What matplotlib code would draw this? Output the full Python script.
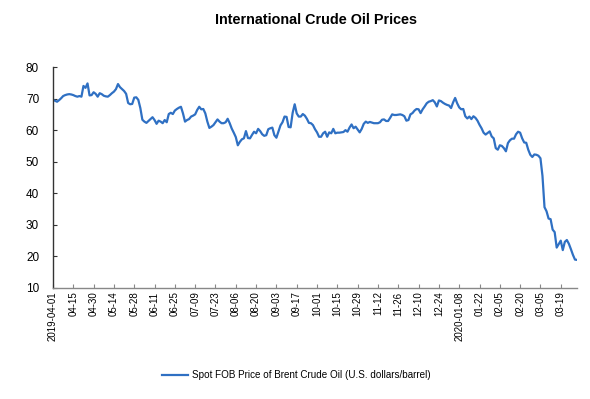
import matplotlib
matplotlib.use("Agg")
import matplotlib.pyplot as plt
from matplotlib import font_manager

# Brent spot FOB, daily, 2019-04-01 .. 2020-03-31
brent = [
    69.6, 69.3, 69.0, 69.5, 70.1, 70.8, 71.1, 71.3, 71.4, 71.3,
    71.1, 70.8, 70.6, 70.8, 70.6, 74.0, 73.4, 74.8, 71.0, 71.1,
    72.0, 71.5, 70.6, 71.7, 71.4, 70.9, 70.7, 70.6, 71.1, 71.7,
    72.2, 73.0, 74.6, 73.6, 73.0, 72.4, 71.5, 68.6, 68.2, 68.3,
    70.3, 70.4, 69.6, 67.0, 63.3, 62.7, 62.3, 62.9, 63.5, 64.1,
    63.2, 62.0, 63.0, 62.7, 62.2, 63.2, 62.5, 65.1, 65.5, 65.1,
    66.2, 66.7, 67.1, 67.4, 65.3, 62.7, 63.2, 63.5, 64.3, 64.6,
    65.0, 66.4, 67.4, 66.6, 66.7, 65.3, 62.7, 60.7, 61.1, 61.6,
    62.5, 63.4, 62.7, 62.2, 62.2, 62.5, 63.6, 62.2, 60.5, 59.2,
    57.8, 55.2, 56.3, 57.1, 57.4, 59.7, 57.5, 57.4, 58.5, 59.5,
    59.0, 60.4, 59.7, 58.7, 58.2, 58.4, 60.3, 60.6, 60.8, 58.4,
    57.6, 59.5, 61.5, 62.5, 64.3, 64.2, 61.0, 60.9, 65.5, 68.2,
    65.3, 64.3, 64.3, 65.1, 64.6, 63.6, 62.3, 62.2, 61.6, 60.3,
    59.3, 57.9, 57.9, 59.0, 59.5, 57.9, 59.3, 59.0, 60.4, 59.0,
    59.2, 59.2, 59.3, 59.4, 60.0, 59.5, 60.8, 61.8, 60.6, 61.1,
    60.2, 59.3, 60.4, 62.0, 62.7, 62.3, 62.6, 62.4, 62.2, 62.2,
    62.2, 62.5, 63.3, 63.4, 62.9, 62.9, 63.9, 65.0, 64.8, 64.8,
    64.9, 65.0, 64.8, 64.4, 63.0, 63.2, 65.0, 65.4, 66.2, 66.7,
    66.6, 65.4, 66.6, 67.5, 68.5, 69.0, 69.2, 69.5, 68.8, 67.5,
    69.4, 69.2, 68.7, 68.3, 68.0, 67.8, 67.0, 68.8, 70.2, 68.5,
    67.2, 66.6, 66.7, 64.4, 63.7, 64.3, 63.5, 64.4, 63.9, 63.0,
    61.7, 60.6, 59.2, 58.6, 59.1, 59.6, 58.0, 57.4, 54.3, 53.8,
    55.2, 55.0, 54.3, 53.3, 55.9, 56.8, 57.3, 57.3, 58.7, 59.5,
    59.2, 57.4, 56.1, 56.0, 53.8, 52.2, 51.5, 52.3, 52.2, 51.9,
    51.1, 45.5, 35.6, 34.3, 32.0, 31.8, 28.5, 27.7, 22.8, 23.9,
    25.0, 22.0, 24.6, 25.2, 24.0, 22.3, 20.5, 19.0, 18.9,
]

tick_labels = [
    "2019-04-01", "04-15", "04-30", "05-14", "05-28", "06-11", "06-25",
    "07-09", "07-23", "08-06", "08-20", "09-03", "09-17", "10-01", "10-15",
    "10-29", "11-12", "11-26", "12-10", "12-24", "2020-01-08", "01-22",
    "02-05", "02-20", "03-05", "03-19",
]
y_ticks = [10, 20, 30, 40, 50, 60, 70, 80]

series_name = "Spot FOB Price of Brent Crude Oil (U.S. dollars/barrel)"
title = "International Crude Oil Prices"

# narrow font if we have it
names = {f.name for f in font_manager.fontManager.ttflist}
if "Liberation Sans Narrow" in names:
    fam = ["Liberation Sans Narrow", "Liberation Sans", "DejaVu Sans"]
else:
    fam = ["Liberation Sans", "DejaVu Sans"]
plt.rcParams["font.family"] = fam

fig = plt.figure(figsize=(5.90, 3.99), dpi=100)
ax = fig.add_axes([53 / 590, 1 - 288 / 399, 524 / 590, 221 / 399])

line, = ax.plot(range(len(brent)), brent, color="#2F70C3", lw=1.6)

ax.set_xlim(0, len(brent) - 1)
ax.set_ylim(10, 80)
ax.set_yticks(y_ticks)
ax.set_xticks(range(0, 10 * len(tick_labels), 10))
ax.set_xticklabels(tick_labels, rotation=90, fontsize=7)

ax.tick_params(axis="y", direction="in", length=3, width=0.8,
               color="#333333", pad=10, labelsize=8.5)
ax.tick_params(axis="x", direction="in", length=3, width=0.8,
               color="#888888", pad=2.5)

for s in ["top", "right"]:
    ax.spines[s].set_visible(False)
ax.spines["left"].set_color("#333333")
ax.spines["left"].set_linewidth(1.0)
ax.spines["bottom"].set_color("#888888")
ax.spines["bottom"].set_linewidth(1.0)

fig.text(316 / 590, 1 - 20 / 399, title, ha="center", va="center",
         fontsize=10.4, fontweight="bold")

fig.legend([line], [series_name], loc="center",
           bbox_to_anchor=(296 / 590, 1 - 375 / 399), frameon=False,
           fontsize=7.15, handlelength=2.6, handletextpad=0.4)

fig.savefig("out.png", dpi=100)
